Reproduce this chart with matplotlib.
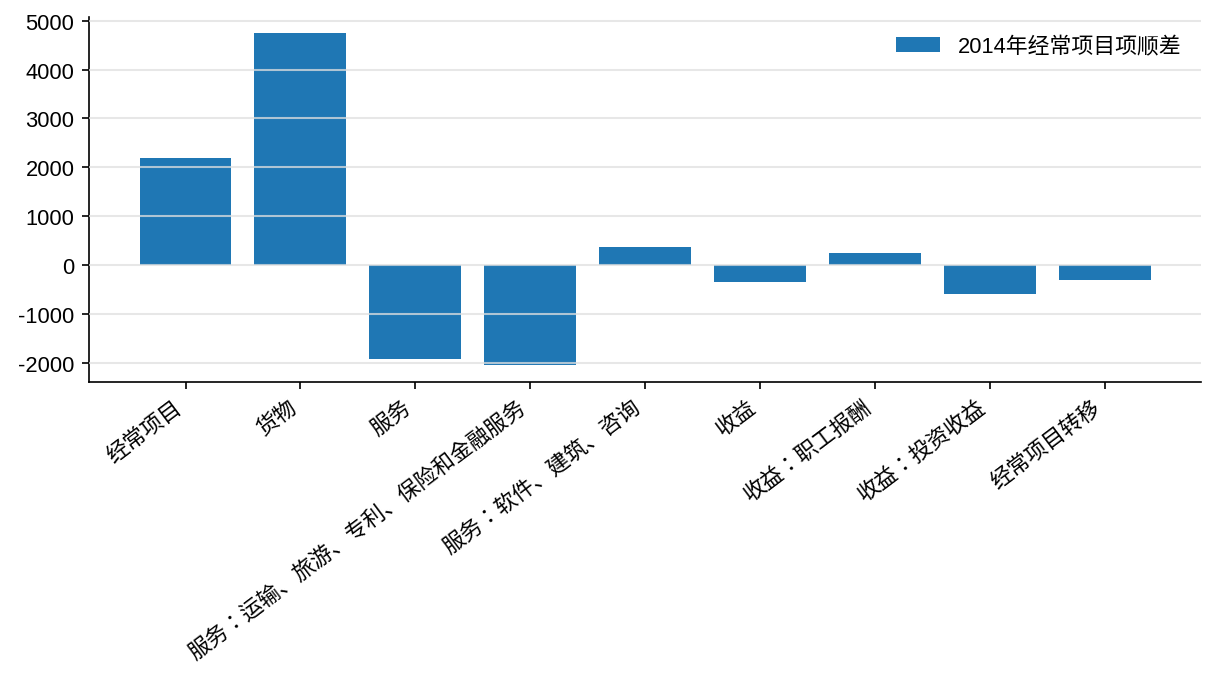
import matplotlib
matplotlib.use('Agg')
import matplotlib.pyplot as plt

plt.rcParams['font.family'] = ['Liberation Sans', 'Noto Sans CJK SC', 'DejaVu Sans']
plt.rcParams['font.size'] = 10.5
plt.rcParams['axes.unicode_minus'] = False

# 2014 current account balance items
categories = ['经常项目', '货物', '服务', '服务：运输、旅游、专利、保险和金融服务',
              '服务：软件、建筑、咨询', '收益', '收益：职工报酬', '收益：投资收益', '经常项目转移']
values = [2190, 4745, -1915, -2055, 365, -345, 245, -595, -305]
series_name = '2014年经常项目项顺差'

fig, ax = plt.subplots(figsize=(8.107, 4.493), dpi=150)
fig.subplots_adjust(left=89 / 1216, right=1201 / 1216, top=1 - 17.5 / 674, bottom=1 - 383 / 674)

x = range(len(categories))
ax.bar(x, values, width=0.8, color='#1f77b4', label=series_name, zorder=1)

# grid drawn over the bars, a bit see-through
ax.yaxis.grid(True, color='#e0e0e0', lw=1.0, alpha=0.75, zorder=2)
ax.set_axisbelow(False)
ax.spines['top'].set_visible(False)
ax.spines['right'].set_visible(False)

ax.set_xticks(list(x))
ax.set_xticklabels(categories, rotation=37, ha='right')
# centred full-width colon like the original
for lab in ax.get_xticklabels():
    if '：' in lab.get_text():
        lab.set_fontfamily(['Liberation Sans', 'Noto Sans CJK JP'])

ax.legend(loc='upper right', frameon=False)

fig.savefig('out.png', dpi=150)
